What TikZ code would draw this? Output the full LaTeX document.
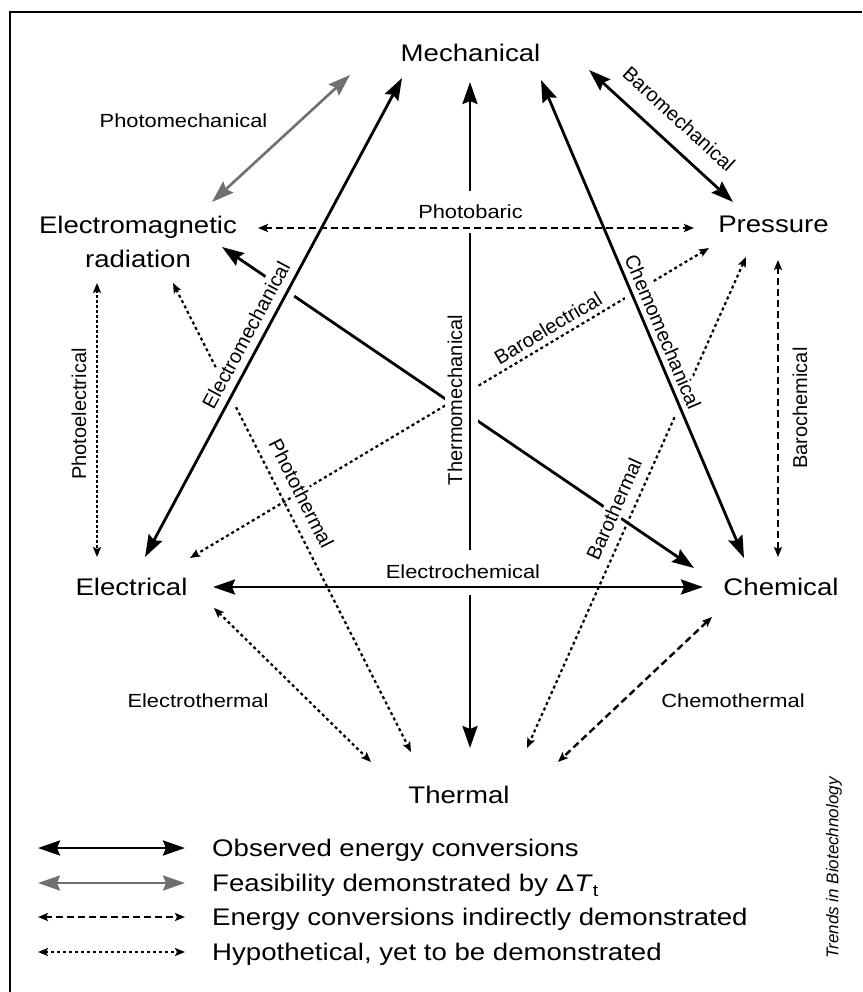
\documentclass[tikz,border=0pt]{standalone}
\usepackage{fontspec}
\setmainfont{Liberation Sans}
\newfontfamily\widefont{Liberation Sans}[FakeStretch=1.15]
\usetikzlibrary{arrows.meta}
\definecolor{feasgray}{RGB}{112,112,112}
\begin{document}
\begin{tikzpicture}[x=1pt,y=-1pt,
  BigHead/.tip={Stealth[length=22pt,width=15pt,inset=3pt]},
  SmallHead/.tip={Stealth[length=10pt,width=8pt,inset=2pt]},
  mainlab/.style={font=\widefont\fontsize{24}{34}\selectfont, inner sep=0pt, anchor=base},
  hlab/.style={font=\widefont\fontsize{19}{22}\selectfont, fill=white, inner sep=2pt},
  rlab/.style={font=\fontsize{20}{22}\selectfont, fill=white, inner sep=3pt},
  legtext/.style={font=\widefont\fontsize{24}{28}\selectfont, inner sep=0pt, anchor=base west},
  obs/.style={line width=2.8pt, BigHead-BigHead},
  halo/.style={preaction={draw=white, line width=16pt, -}},
  feas/.style={line width=2.6pt, draw=feasgray, BigHead-BigHead},
  ind/.style={line width=2.4pt, dash pattern=on 7pt off 4pt, SmallHead-SmallHead},
  hyp/.style={line width=2.2pt, dash pattern=on 3pt off 3pt, SmallHead-SmallHead},
  dense/.style={line width=2.8pt, dash pattern=on 3pt off 2pt, SmallHead-SmallHead}
]
\useasboundingbox (0,0) rectangle (862,992);
% frame (cropped at right and bottom)
\draw[line width=2.5pt] (10,992) -- (10,12) -- (862,12);

% main nodes
\node[mainlab] (mech) at (470.5,62) {Mechanical};
\node[mainlab, align=center] (em) at (138,267) {Electromagnetic\\radiation};
\node[mainlab] (pres) at (773.5,233) {Pressure};
\node[mainlab] (elec) at (131.5,595) {Electrical};
\node[mainlab] (chem) at (781,595) {Chemical};
\node[mainlab] (therm) at (459,803) {Thermal};

% lines that get interrupted by others
\draw[hyp] ([shift={(35,16)}]em.base) -- ([shift={(-48,-51)}]therm.base);   % photothermal
\draw[hyp] ([shift={(-64.5,15)}]pres.base) -- ([shift={(58.5,-37)}]elec.base); % baroelectrical
\draw[hyp] ([shift={(-27.5,24)}]pres.base) -- ([shift={(68,-55)}]therm.base); % barothermal
\draw[dense] ([shift={(-41,16)}]em.base) -- ([shift={(-34.5,-38)}]elec.base); % photoelectrical
\draw[hyp] ([shift={(82.5,13)}]elec.base) -- ([shift={(-88,-41)}]therm.base); % electrothermal
\draw[ind] ([shift={(-69,22)}]chem.base) -- ([shift={(99,-41)}]therm.base); % chemothermal
\draw[ind] ([shift={(4.5,27)}]pres.base) -- ([shift={(-3,-38)}]chem.base); % barochemical
\draw[obs] ([shift={(84,-20)}]em.base) -- ([shift={(-87,-27)}]chem.base); % EM - chemical
\draw[feas] ([shift={(74,-65)}]em.base) -- ([shift={(-120.5,13)}]mech.base); % photomechanical
\draw[obs] ([shift={(118.5,8)}]mech.base) -- ([shift={(-40.5,-31)}]pres.base); % baromechanical

% solid lines passing over others
\draw[obs, halo] ([shift={(13.5,-38)}]elec.base) -- ([shift={(-68.5,16)}]mech.base); % electromechanical
\draw[obs, halo] ([shift={(70.5,18)}]mech.base) -- ([shift={(-37,-37)}]chem.base); % chemomechanical
\draw[obs, halo] ([shift={(-0.5,20)}]mech.base) -- ([shift={(11,-55)}]therm.base); % thermomechanical

% labels
\node[hlab, anchor=base] (lPM) at (183.5,128) {Photomechanical};
\node[rlab, rotate=-42.5] (lBM) at (679,119) {Baromechanical};
\node[rlab, rotate=61.8] (lEM) at (246,335) {Electromechanical};
\node[rlab, rotate=-63.1] (lPT) at (301.5,493.5) {Photothermal};
\node[rlab, rotate=30.9] (lBE) at (548,328) {Baroelectrical};
\node[rlab, rotate=-67] (lCM) at (663,332) {Chemomechanical};
\node[rlab, rotate=66] (lBT) at (614,509) {Barothermal};
\node[rlab, rotate=90] (lTM) at (455,400) {Thermomechanical};
\node[rlab, rotate=90] (lPE) at (79,414) {Photoelectrical};
\node[rlab, rotate=90] (lBC) at (800,408) {Barochemical};
\node[hlab, anchor=base] (lET) at (198,707) {Electrothermal};
\node[hlab, anchor=base] (lCT) at (733,707) {Chemothermal};
\node[hlab, minimum height=42pt] (lPB) at (470.5,212) {Photobaric};
\node[hlab, minimum height=45pt] (lEC) at (463,572) {Electrochemical};

% lines drawn on top of labels
\draw[ind] ([shift={(120,-39)}]em.base) -- ([shift={(-79.5,-5)}]pres.base); % photobaric
\draw[obs] ([shift={(81.5,-8)}]elec.base) -- ([shift={(-78,-8)}]chem.base); % electrochemical

% legend
\coordinate (lg1a) at (38,848); \coordinate (lg1b) at (185,848);
\coordinate (lg2a) at (38,883); \coordinate (lg2b) at (185,883);
\coordinate (lg3a) at (38,917); \coordinate (lg3b) at (185,917);
\coordinate (lg4a) at (38,952); \coordinate (lg4b) at (185,952);
\draw[obs] (lg1a) -- (lg1b);
\draw[feas] (lg2a) -- (lg2b);
\draw[ind] (lg3a) -- (lg3b);
\draw[hyp] (lg4a) -- (lg4b);
\node[legtext] (lt1) at (212,856) {Observed energy conversions};
\node[legtext] (lt2) at (212,891) {Feasibility demonstrated by Δ\textit{T}\raisebox{-0.22em}{\fontsize{17}{17}\selectfont t}};
\node[legtext] (lt3) at (212,925) {Energy conversions indirectly demonstrated};
\node[legtext] (lt4) at (212,960) {Hypothetical, yet to be demonstrated};

\node[font=\itshape\fontsize{17}{17}\selectfont, rotate=90, inner sep=0pt] (trends) at (834,868) {Trends in Biotechnology};
\end{tikzpicture}
\end{document}
